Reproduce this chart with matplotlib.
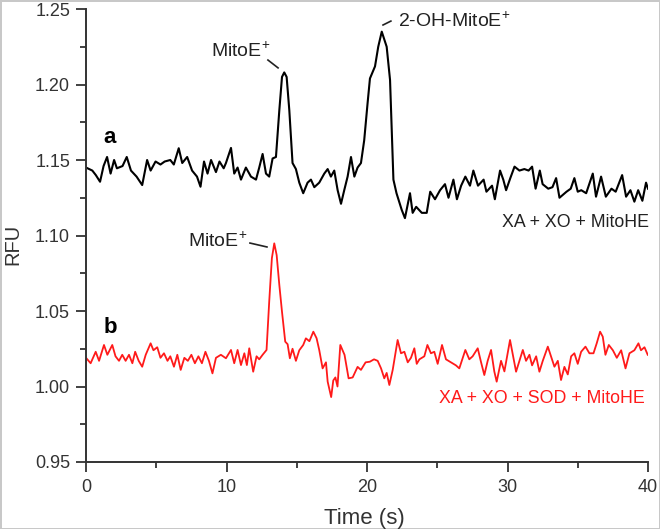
import matplotlib
matplotlib.use("Agg")
import matplotlib.pyplot as plt
from matplotlib.ticker import MultipleLocator

plt.rcParams['font.family'] = ['Liberation Sans', 'DejaVu Sans']
plt.rcParams['mathtext.fontset'] = 'custom'
plt.rcParams['mathtext.rm'] = 'Liberation Sans'
plt.rcParams['mathtext.default'] = 'regular'

# trace a: XA + XO + MitoHE (black)
time_a = [0.0, 0.45, 0.7, 1.0, 1.25, 1.5, 1.75, 2.0, 2.2, 2.6, 2.9, 3.2, 3.6, 4.0,
          4.35, 4.6, 4.95, 5.3, 5.6, 6.0, 6.25, 6.6, 6.85, 7.2, 7.55, 7.9, 8.15,
          8.4, 8.65, 8.9, 9.25, 9.5, 9.8, 9.96, 10.32, 10.55, 10.79, 11.03, 11.38,
          11.74, 12.1, 12.33, 12.57, 12.81, 13.04, 13.28, 13.52, 13.76, 13.95,
          14.11, 14.28, 14.47, 14.7, 14.94, 15.18, 15.46, 15.77, 16.01, 16.25,
          16.6, 16.96, 17.2, 17.43, 17.67, 17.91, 18.15, 18.38, 18.62, 18.86,
          19.1, 19.33, 19.57, 19.8, 20.04, 20.21, 20.57, 20.8, 21.05, 21.4,
          21.64, 21.88, 22.1, 22.47, 22.7, 23.06, 23.25, 23.5, 23.9, 24.25,
          24.5, 24.84, 25.2, 25.55, 25.8, 26.15, 26.4, 26.7, 27.0, 27.33, 27.57,
          27.9, 28.3, 28.5, 28.9, 29.1, 29.47, 29.7, 29.9, 30.2, 30.5, 30.85,
          31.2, 31.5, 31.75, 32.0, 32.3, 32.5, 32.9, 33.2, 33.46, 33.7, 33.95,
          34.2, 34.5, 34.76, 35.0, 35.25, 35.6, 36.07, 36.3, 36.66, 37.0, 37.4,
          37.7, 38.16, 38.44, 38.75, 39.03, 39.3, 39.6, 39.86, 40.0]
rfu_a = [1.145, 1.143, 1.140, 1.1356, 1.146, 1.152, 1.141, 1.150, 1.1445, 1.146,
         1.152, 1.143, 1.139, 1.1334, 1.150, 1.143, 1.149, 1.147, 1.149, 1.150,
         1.147, 1.1578, 1.148, 1.152, 1.143, 1.139, 1.1323, 1.149, 1.141, 1.150,
         1.142, 1.149, 1.1445, 1.148, 1.158, 1.141, 1.145, 1.137, 1.145, 1.139,
         1.137, 1.145, 1.154, 1.141, 1.139, 1.151, 1.152, 1.183, 1.205, 1.208,
         1.205, 1.183, 1.148, 1.144, 1.135, 1.128, 1.135, 1.137, 1.132, 1.135,
         1.141, 1.144, 1.139, 1.143, 1.130, 1.121, 1.130, 1.139, 1.152, 1.139,
         1.145, 1.148, 1.163, 1.1875, 1.204, 1.212, 1.225, 1.235, 1.225, 1.203,
         1.137, 1.128, 1.117, 1.1115, 1.128, 1.115, 1.119, 1.115, 1.115, 1.129,
         1.124, 1.130, 1.134, 1.125, 1.137, 1.124, 1.133, 1.139, 1.133, 1.143,
         1.133, 1.137, 1.129, 1.133, 1.124, 1.143, 1.137, 1.130, 1.138, 1.1456,
         1.143, 1.144, 1.143, 1.1456, 1.131, 1.143, 1.134, 1.131, 1.132, 1.138,
         1.125, 1.127, 1.129, 1.131, 1.138, 1.129, 1.130, 1.128, 1.141, 1.1257,
         1.139, 1.1257, 1.131, 1.129, 1.140, 1.1257, 1.130, 1.1224, 1.130, 1.123,
         1.135, 1.131]

# trace b: XA + XO + SOD + MitoHE (red), rows of 10
time_b = [0.0, 0.33, 0.69, 0.93, 1.28, 1.52, 1.87, 2.1, 2.35, 2.58,
          2.82, 3.06, 3.3, 3.5, 3.75, 4.0, 4.25, 4.6, 4.8, 5.07,
          5.3, 5.55, 5.8, 6.0, 6.26, 6.5, 6.74, 7.0, 7.25, 7.5,
          7.75, 8.0, 8.25, 8.5, 8.75, 9.0, 9.25, 9.6, 9.96, 10.32,
          10.55, 10.79, 11.03, 11.27, 11.45, 11.62, 11.9, 12.14, 12.33, 12.57,
          12.85, 13.04, 13.23, 13.4, 13.57, 13.76, 13.95, 14.18, 14.35, 14.51,
          14.7, 14.94, 15.18, 15.46, 15.65, 15.9, 16.18, 16.41, 16.6, 16.84,
          17.08, 17.2, 17.45, 17.6, 17.75, 17.9, 18.1, 18.26, 18.4, 18.69,
          18.98, 19.33, 19.57, 19.9, 20.2, 20.5, 20.76, 21.0, 21.23, 21.4,
          21.59, 21.83, 22.18, 22.42, 22.66, 22.9, 23.13, 23.37, 23.54, 23.73,
          24.08, 24.3, 24.55, 24.79, 25.03, 25.34, 25.62, 25.98, 26.33, 26.57,
          27.0, 27.28, 27.52, 27.88, 28.12, 28.35, 28.59, 28.83, 29.06, 29.23,
          29.54, 29.78, 30.18, 30.38, 30.61, 30.85, 31.09, 31.32, 31.56, 31.75,
          32.04, 32.27, 32.51, 32.87, 33.1, 33.34, 33.58, 33.81, 34.05, 34.29,
          34.53, 34.76, 35.0, 35.24, 35.55, 35.83, 36.12, 36.35, 36.59, 36.78,
          36.97, 37.21, 37.5, 37.78, 38.09, 38.4, 38.68, 39.03, 39.32, 39.5,
          39.75, 39.98]
rfu_b = [1.019, 1.0154, 1.023, 1.017, 1.0275, 1.021, 1.0275, 1.020, 1.017, 1.021,
         1.017, 1.021, 1.0154, 1.023, 1.017, 1.0131, 1.021, 1.0286, 1.024, 1.026,
         1.019, 1.022, 1.017, 1.020, 1.0131, 1.021, 1.011, 1.019, 1.017, 1.021,
         1.0154, 1.020, 1.0154, 1.023, 1.017, 1.0087, 1.019, 1.021, 1.0187, 1.0242,
         1.0154, 1.0242, 1.0142, 1.022, 1.0142, 1.0253, 1.0098, 1.020, 1.018, 1.021,
         1.0242, 1.0562, 1.085, 1.0948, 1.087, 1.0672, 1.0495, 1.0297, 1.028, 1.0187,
         1.025, 1.017, 1.024, 1.0275, 1.0319, 1.030, 1.0363, 1.032, 1.0242, 1.012,
         1.016, 1.0032, 0.993, 1.004, 1.006, 1.000, 1.0275, 1.024, 1.021, 1.0054,
         1.006, 1.013, 1.011, 1.016, 1.0164, 1.018, 1.017, 1.012, 1.0054, 1.009,
         1.001, 1.011, 1.0308, 1.022, 1.023, 1.016, 1.019, 1.0253, 1.015, 1.018,
         1.020, 1.0275, 1.022, 1.023, 1.015, 1.0275, 1.018, 1.016, 1.014, 1.012,
         1.0242, 1.018, 1.020, 1.0253, 1.016, 1.0076, 1.017, 1.0242, 1.010, 1.0032,
         1.017, 1.010, 1.0308, 1.021, 1.0098, 1.017, 1.0242, 1.017, 1.021, 1.014,
         1.020, 1.0098, 1.017, 1.0264, 1.020, 1.0131, 1.017, 1.0043, 1.013, 1.008,
         1.020, 1.022, 1.015, 1.023, 1.0264, 1.022, 1.022, 1.0286, 1.0363, 1.033,
         1.021, 1.0275, 1.024, 1.019, 1.024, 1.012, 1.022, 1.024, 1.0286, 1.024,
         1.026, 1.021]

x_ticks = [0, 10, 20, 30, 40]
y_ticks = [0.95, 1.00, 1.05, 1.10, 1.15, 1.20, 1.25]

fig = plt.figure(figsize=(6.6, 5.29), dpi=100)
fig.patch.set_edgecolor('#c8c8c8')
fig.patch.set_linewidth(2)
ax = fig.add_axes([86 / 660, 1 - 462 / 529, 562 / 660, 453 / 529])

ax.plot(time_a, rfu_a, color='black', lw=1.5)
ax.plot(time_b, rfu_b, color='#ff1a1a', lw=1.3)

ax.set_xlim(0, 40)
ax.set_ylim(0.95, 1.25)
ax.set_xticks(x_ticks)
ax.set_yticks(y_ticks)
ax.set_yticklabels([f"{v:.2f}" for v in y_ticks])
ax.xaxis.set_minor_locator(MultipleLocator(5))
ax.yaxis.set_minor_locator(MultipleLocator(0.025))
for s in ['top', 'right']:
    ax.spines[s].set_visible(False)
for s in ['left', 'bottom']:
    ax.spines[s].set_linewidth(1.4)
    ax.spines[s].set_color('#333333')
ax.tick_params(which='major', direction='out', length=7, width=1.3,
               color='#333333', labelsize=13, labelcolor='#333333')
ax.tick_params(axis='y', which='major', pad=4.5)
ax.tick_params(axis='x', which='major', pad=5)
ax.tick_params(which='minor', direction='out', length=4.5, width=1.3,
               color='#333333')

ax.set_xlabel('Time (s)', fontsize=16, color='#333333')
ax.set_ylabel('RFU', fontsize=14.5, color='#333333')
ax.xaxis.set_label_coords(0.496, -0.101)
ax.yaxis.set_label_coords(-0.114, 0.48)

ax.text(1.7, 1.165, 'a', fontsize=16, fontweight='bold', ha='center', va='center')
ax.text(1.7, 1.039, 'b', fontsize=16, fontweight='bold', ha='center', va='center')

ax.text(13.1, 1.2185, 'MitoE$^{+}$', fontsize=14, ha='right', va='baseline',
        color='#222222')
ax.plot([12.95, 13.67], [1.2162, 1.211], color='#222222', lw=1.2)
ax.text(22.2, 1.238, '2-OH-MitoE$^{+}$', fontsize=14, ha='left', va='baseline',
        color='#222222')
ax.plot([21.14, 21.7], [1.2394, 1.242], color='#222222', lw=1.2)
ax.text(11.5, 1.0924, 'MitoE$^{+}$', fontsize=14, ha='right', va='baseline',
        color='#222222')
ax.plot([11.67, 12.88], [1.095, 1.0924], color='#222222', lw=1.2)

ax.text(40.1, 1.1056, 'XA + XO + MitoHE', fontsize=12.8, ha='right',
        va='baseline', color='#222222')
ax.text(39.8, 0.989, 'XA + XO + SOD + MitoHE', fontsize=12.8, ha='right',
        va='baseline', color='#ff1a1a')

fig.savefig('out.png', dpi=100)
